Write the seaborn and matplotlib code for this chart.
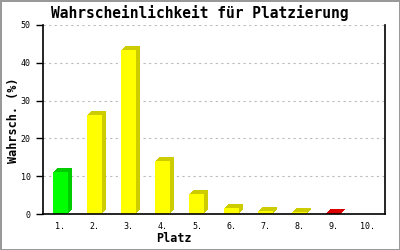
import matplotlib
matplotlib.use("Agg")
import matplotlib.pyplot as plt
import matplotlib.transforms as mtransforms
import seaborn as sns
import pandas as pd

places = ["1.", "2.", "3.", "4.", "5.", "6.", "7.", "8.", "9.", "10."]
probs = [11.2, 26.3, 43.4, 14.0, 5.3, 1.5, 0.7, 0.4, 0.3, 0.0]
front_colors = ["#00ff00"] + ["#ffff00"] * 7 + ["#ff0000", "#ffff00"]
side_colors = ["#00cc00"] + ["#cccc00"] * 7 + ["#dd0000", "#cccc00"]
y_ticks = [0, 10, 20, 30, 40, 50]

sns.set_theme(style="white")
plt.rcParams["font.family"] = ["DejaVu Sans Mono", "DejaVu Sans"]
plt.rcParams["text.color"] = "black"
plt.rcParams["xtick.color"] = "black"
plt.rcParams["ytick.color"] = "black"

df = pd.DataFrame({"Platz": places, "p": probs})

fig = plt.figure(figsize=(4, 2.5), dpi=100)
fig.patch.set_facecolor("white")
fig.patch.set_edgecolor("#999999")
fig.patch.set_linewidth(2)
ax = fig.add_axes([43 / 400, 36 / 250, 342 / 400, 189 / 250])

depth = 4
for k in range(depth, 0, -1):
    sns.barplot(data=df, x="Platz", y="p", order=places, color="#cccc00",
                width=0.44, ax=ax, saturation=1, linewidth=0, errorbar=None)
    cont = ax.containers[-1]
    off = mtransforms.ScaledTranslation(k / 100, k / 100, fig.dpi_scale_trans)
    for patch, c in zip(cont.patches, side_colors):
        patch.set_transform(ax.transData + off)
        patch.set_facecolor(c)
        patch.set_zorder(2)
sns.barplot(data=df, x="Platz", y="p", order=places, color="#ffff00",
            width=0.44, ax=ax, saturation=1, linewidth=0, errorbar=None)
for patch, c in zip(ax.containers[-1].patches, front_colors):
    patch.set_facecolor(c)
    patch.set_zorder(3)

ax.set_xlim(-0.5, len(places) - 0.5)
ax.set_ylim(0, 50)
ax.set_yticks(y_ticks)
ax.set_yticklabels([str(t) for t in y_ticks], fontsize=6)
ax.tick_params(axis="y", length=5, width=1, color="black", pad=4, left=True)
ax.tick_params(axis="x", length=0, pad=6, labelsize=6)
ax.yaxis.grid(True, linestyle=(0, (2, 3)), color="#bbbbbb", linewidth=0.8, zorder=0)
ax.set_axisbelow(True)
for s in ["left", "bottom", "right"]:
    ax.spines[s].set_visible(True)
    ax.spines[s].set_color("black")
    ax.spines[s].set_linewidth(1.2)
    ax.spines[s].set_zorder(4)
ax.spines["top"].set_visible(False)
ax.set_xlabel("")
ax.set_ylabel("")

fig.text(0.5, 1 - 13 / 250, "Wahrscheinlichkeit für Platzierung", ha="center",
         va="center", fontsize=10.5, fontweight="bold")
fig.text(174 / 400, 1 - 239 / 250, "Platz", ha="center", va="center",
         fontsize=8.5, fontweight="bold")
fig.text(14 / 400, 1 - 120 / 250, "Wahrsch. (%)", ha="center", va="center",
         fontsize=8.5, fontweight="bold", rotation=90)

fig.savefig("out.png", dpi=100, facecolor=fig.get_facecolor(),
            edgecolor=fig.get_edgecolor())
